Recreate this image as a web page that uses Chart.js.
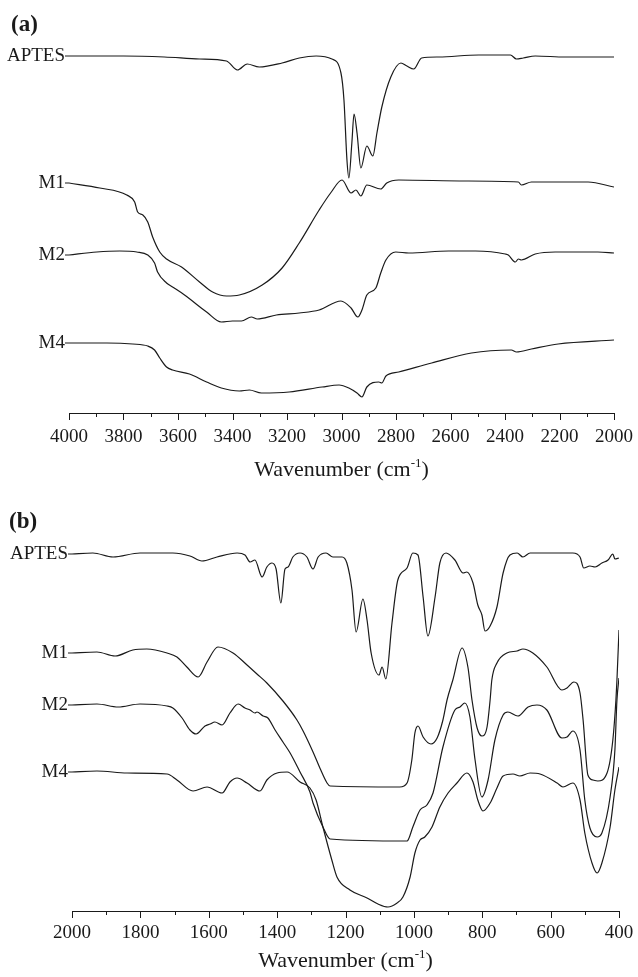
<!DOCTYPE html>
<html>
<head>
<meta charset="utf-8">
<script src="https://cdn.jsdelivr.net/npm/chart.js@4"></script>
<style>
  body { margin: 0; background: #fff; }
  canvas { display: block; }
</style>
</head>
<body>
<canvas id="chartA" width="638" height="485"></canvas>
<canvas id="chartB" width="638" height="492"></canvas>
<script>
// FTIR spectra, transmittance offset in arbitrary units

// (a) 4000 - 2000 cm-1
const A_APTES_WN = [4000, 3800, 3650, 3521, 3422, 3382, 3346, 3302, 3218, 3155, 3093, 3035, 3002, 2991, 2980, 2973, 2962, 2954, 2943, 2929, 2907, 2885, 2870, 2852, 2819, 2782, 2760, 2735, 2706, 2643, 2497, 2380, 2358, 2333, 2289, 2179, 2000];
const A_APTES_T  = [357, 357, 356, 354, 352, 343, 349, 346, 350, 355, 357, 354, 340, 313, 253, 235, 270, 299, 280, 245, 267, 257, 280, 306, 336, 350, 347, 344, 355, 356, 358, 358, 354, 355, 357, 356, 356];

const A_M1_WN = [4000, 3887, 3788, 3759, 3748, 3729, 3711, 3693, 3667, 3642, 3587, 3521, 3473, 3422, 3375, 3291, 3218, 3155, 3082, 3040, 2998, 2965, 2947, 2929, 2907, 2856, 2834, 2790, 2545, 2351, 2340, 2303, 2095, 2000];
const A_M1_T  = [230, 225, 218, 211, 201, 198, 191, 176, 161, 154, 146, 131, 121, 117, 118, 128, 145, 170, 203, 220, 233, 220, 223, 217, 228, 224, 230, 233, 232, 231, 228, 231, 231, 226];

const A_M2_WN = [4000, 3898, 3814, 3751, 3711, 3686, 3675, 3642, 3620, 3576, 3495, 3441, 3400, 3367, 3331, 3309, 3239, 3155, 3082, 3002, 2965, 2940, 2925, 2907, 2874, 2856, 2837, 2801, 2753, 2607, 2508, 2399, 2388, 2362, 2351, 2340, 2289, 2216, 2059, 2000];
const A_M2_T  = [158, 161, 162, 161, 158, 150, 141, 130, 126, 118, 101, 91, 92, 92, 96, 94, 98, 100, 103, 112, 105, 96, 103, 118, 125, 140, 153, 161, 160, 162, 162, 159, 158, 151, 154, 153, 159, 161, 161, 160];

const A_M4_WN = [4000, 3861, 3766, 3711, 3686, 3667, 3642, 3620, 3558, 3495, 3441, 3375, 3338, 3294, 3192, 3071, 3009, 2973, 2943, 2925, 2907, 2863, 2852, 2837, 2790, 2669, 2523, 2377, 2358, 2303, 2205, 2000];
const A_M4_T  = [70, 70, 69, 67, 63, 55, 46, 43, 39, 31, 25, 22, 23, 20, 21, 26, 28, 25, 20, 16, 26, 31, 30, 37, 41, 50, 60, 63, 61, 64, 69, 73];

// (b) 2000 - 400 cm-1
const B_APTES_WN = [2000, 1939, 1880, 1801, 1705, 1655, 1620, 1576, 1517, 1494, 1479, 1465, 1444, 1430, 1415, 1403, 1389, 1377, 1368, 1354, 1333, 1313, 1295, 1280, 1257, 1237, 1210, 1196, 1181, 1169, 1149, 1137, 1125, 1102, 1093, 1082, 1064, 1047, 1020, 1003, 988, 973, 959, 938, 924, 906, 880, 856, 845, 827, 813, 801, 792, 777, 757, 739, 719, 698, 681, 660, 535, 514, 503, 485, 470, 450, 432, 418, 412, 400];
const B_APTES_T  = [357, 358, 354, 358, 358, 355, 350, 354, 358, 356, 349, 351, 334, 344, 348, 342, 308, 342, 344, 354, 358, 354, 342, 354, 358, 354, 354, 348, 321, 279, 312, 291, 258, 236, 244, 232, 288, 331, 343, 358, 356, 314, 275, 314, 348, 358, 351, 338, 339, 328, 306, 296, 280, 285, 304, 338, 356, 358, 354, 358, 358, 354, 343, 345, 344, 348, 351, 357, 352, 353];

const B_M1_WN = [2000, 1927, 1874, 1822, 1781, 1722, 1693, 1664, 1631, 1605, 1573, 1529, 1488, 1459, 1430, 1383, 1342, 1324, 1295, 1275, 1254, 1245, 1041, 1020, 1006, 997, 988, 973, 950, 932, 915, 903, 886, 859, 842, 830, 815, 801, 786, 777, 772, 757, 728, 698, 681, 652, 611, 567, 552, 532, 514, 505, 491, 476, 462, 435, 418, 409, 406, 400];
const B_M1_T  = [258, 259, 255, 261, 262, 258, 254, 244, 234, 249, 264, 258, 246, 237, 228, 210, 191, 180, 159, 143, 128, 125, 124, 128, 151, 178, 185, 174, 167, 173, 191, 211, 231, 263, 244, 211, 183, 175, 184, 211, 231, 248, 258, 260, 262, 258, 244, 221, 223, 229, 218, 191, 136, 131, 130, 138, 171, 211, 231, 281];

const B_M2_WN = [2000, 1927, 1865, 1801, 1722, 1705, 1678, 1655, 1637, 1611, 1596, 1582, 1561, 1538, 1514, 1494, 1479, 1465, 1459, 1441, 1427, 1406, 1383, 1362, 1333, 1304, 1295, 1266, 1245, 1020, 1003, 982, 962, 944, 915, 880, 865, 851, 836, 821, 801, 783, 763, 739, 725, 696, 666, 640, 611, 567, 552, 535, 514, 500, 485, 464, 450, 426, 412, 406, 400];
const B_M2_T  = [206, 207, 204, 207, 205, 203, 193, 181, 177, 185, 187, 189, 186, 198, 207, 203, 201, 198, 199, 195, 193, 181, 169, 158, 139, 119, 108, 84, 72, 70, 84, 101, 106, 118, 164, 201, 204, 208, 194, 151, 114, 131, 171, 196, 199, 195, 204, 206, 201, 173, 174, 180, 161, 111, 83, 74, 78, 114, 161, 211, 233];

const B_M4_WN = [2000, 1927, 1839, 1722, 1693, 1646, 1605, 1561, 1538, 1517, 1488, 1450, 1430, 1400, 1371, 1333, 1304, 1286, 1266, 1240, 1225, 1187, 1137, 1105, 1076, 1049, 1032, 1011, 997, 982, 968, 947, 924, 900, 874, 845, 827, 813, 798, 777, 757, 739, 710, 690, 660, 631, 581, 564, 535, 514, 500, 479, 464, 450, 426, 412, 400];
const B_M4_T  = [139, 140, 138, 137, 131, 120, 124, 118, 129, 133, 128, 120, 131, 138, 139, 129, 123, 111, 84, 51, 34, 21, 13, 7, 4, 8, 14, 34, 58, 71, 74, 84, 104, 118, 128, 138, 129, 111, 100, 108, 123, 135, 137, 135, 138, 137, 128, 124, 128, 111, 78, 48, 38, 48, 84, 121, 144];

const SERIES_NAMES = ['APTES', 'M1', 'M2', 'M4'];
const INK = '#1a1a1a';
const SERIF = '"Liberation Serif", "Times New Roman", serif';

function zip(wn, t) {
	return wn.map((w, i) => ({x: w, y: t[i]}));
}

function makeDatasets(pairs) {
	return pairs.map((p, i) => ({
		label: SERIES_NAMES[i],
		data: zip(p[0], p[1]),
		borderColor: INK,
		borderWidth: 1.2,
		pointRadius: 0,
		fill: false,
		cubicInterpolationMode: 'monotone',
	}));
}

function makeDecor(opts) {
	return {
		id: 'decor',
		afterDraw(chart) {
			const {ctx, chartArea, scales: {x, y}} = chart;
			ctx.save();
			ctx.strokeStyle = INK;
			ctx.fillStyle = INK;
			ctx.lineWidth = 1;

			// major / minor tick marks below the axis
			x.ticks.forEach((t) => {
				const px = Math.round(x.getPixelForValue(t.value)) + 0.5;
				const len = t.value % 200 === 0 ? 7 : 4;
				ctx.beginPath();
				ctx.moveTo(px, chartArea.bottom);
				ctx.lineTo(px, chartArea.bottom + len);
				ctx.stroke();
			});

			// series names at the start of each curve
			ctx.font = '19px ' + SERIF;
			ctx.textAlign = 'right';
			ctx.textBaseline = 'middle';
			chart.data.datasets.forEach((ds) => {
				const first = ds.data[0];
				const px = x.getPixelForValue(first.x);
				const py = y.getPixelForValue(first.y);
				ctx.fillText(ds.label, px - 4, py);
				ctx.beginPath();
				ctx.moveTo(px - 4, py);
				ctx.lineTo(px, py);
				ctx.stroke();
			});

			// panel tag
			ctx.font = 'bold 23px ' + SERIF;
			ctx.textAlign = 'left';
			ctx.textBaseline = 'alphabetic';
			ctx.fillText(opts.tag, opts.tagX, opts.tagY);

			// axis title with superscript
			const main = 'Wavenumber (cm', sup = '-1', close = ')';
			ctx.font = '22px ' + SERIF;
			const wMain = ctx.measureText(main).width;
			const wClose = ctx.measureText(close).width;
			ctx.font = '13px ' + SERIF;
			const wSup = ctx.measureText(sup).width;
			const total = wMain + wSup + wClose;
			let sx = (chartArea.left + chartArea.right) / 2 - total / 2;
			ctx.font = '22px ' + SERIF;
			ctx.fillText(main, sx, opts.titleY);
			sx += wMain;
			ctx.font = '13px ' + SERIF;
			ctx.fillText(sup, sx, opts.titleY - 9);
			sx += wSup;
			ctx.font = '22px ' + SERIF;
			ctx.fillText(close, sx, opts.titleY);

			ctx.restore();
		}
	};
}

function createSpectrumChart(canvasId, cfg) {
	const ctx = document.getElementById(canvasId);
	return new Chart(ctx, {
		type: 'line',
		data: { datasets: makeDatasets(cfg.pairs) },
		options: {
			responsive: false,
			animation: false,
			layout: { padding: { left: cfg.left, right: cfg.right, top: 0, bottom: 0 } },
			scales: {
				x: {
					type: 'linear',
					reverse: true,
					min: cfg.xMin,
					max: cfg.xMax,
					afterFit: (scale) => { scale.height = cfg.axisHeight; },
					grid: { display: false },
					border: { display: true, color: INK, width: 1 },
					ticks: {
						stepSize: 100,
						autoSkip: false,
						maxRotation: 0,
						padding: cfg.tickPad,
						color: INK,
						font: { family: SERIF, size: 19 },
						callback: (v) => (v % 200 === 0 ? String(v) : ''),
					},
				},
				y: {
					display: false,
					min: 0,
					max: cfg.yMax,
				},
			},
			plugins: {
				legend: { display: false },
				tooltip: { enabled: false },
			},
		},
		plugins: [makeDecor(cfg.decor)],
	});
}

createSpectrumChart('chartA', {
	pairs: [[A_APTES_WN, A_APTES_T], [A_M1_WN, A_M1_T], [A_M2_WN, A_M2_T], [A_M4_WN, A_M4_T]],
	xMin: 2000, xMax: 4000,
	left: 69, right: 22,
	axisHeight: 72,
	tickPad: 5,
	yMax: 413,
	decor: { tag: '(a)', tagX: 11, tagY: 31, titleY: 476 },
});

createSpectrumChart('chartB', {
	pairs: [[B_APTES_WN, B_APTES_T], [B_M1_WN, B_M1_T], [B_M2_WN, B_M2_T], [B_M4_WN, B_M4_T]],
	xMin: 400, xMax: 2000,
	left: 72, right: 19,
	axisHeight: 66,
	tickPad: 3,
	yMax: 426,
	decor: { tag: '(b)', tagX: 9, tagY: 43, titleY: 482 },
});
</script>
</body>
</html>
